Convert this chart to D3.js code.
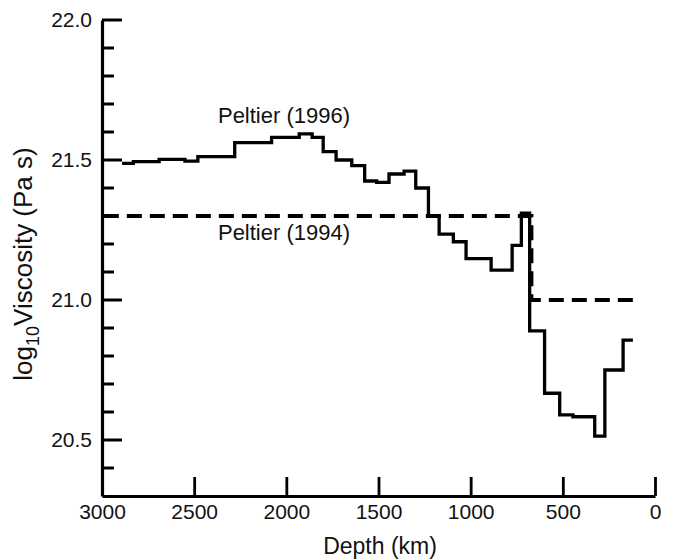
<!DOCTYPE html>
<html lang="en">
  <head>
    <meta charset="utf-8">
    <title>Viscosity profiles</title>
    <script src="https://d3js.org/d3.v7.min.js"></script>
    <style>
      body { margin: 0; background: #fff; }
      svg text { font-family: "Liberation Sans", Arial, Helvetica, sans-serif; fill: #111; }
    </style>
  </head>
  <body>
    <script>
// Peltier (1996): layer boundaries (km) and log10 viscosity in each layer
const edges1996 = [2891, 2830, 2690, 2550, 2480, 2280, 2080, 1930, 1860, 1800, 1730, 1645, 1575, 1510,
  1443, 1361, 1298, 1229, 1171, 1094, 1025, 889, 775, 725, 680, 599, 517, 445, 327, 272, 173, 120]
const visc1996 = [21.488, 21.494, 21.502, 21.496, 21.512, 21.562, 21.581, 21.593, 21.581, 21.53, 21.5,
  21.48, 21.425, 21.42, 21.45, 21.46, 21.4, 21.3, 21.235, 21.208, 21.148, 21.107, 21.195, 21.31,
  20.89, 20.667, 20.59, 20.583, 20.514, 20.75, 20.857]

// Peltier (1994)
const edges1994 = [2990, 670, 120]
const visc1994 = [21.3, 21.0]

const xTicks = [3000, 2500, 2000, 1500, 1000, 500, 0]
const yMajor = [20.5, 21.0, 21.5, 22.0]
const yMinor = [20.4, 20.6, 20.7, 20.8, 20.9, 21.1, 21.2, 21.3, 21.4, 21.6, 21.7, 21.8, 21.9]

const width = 675, height = 559

const svg = d3.select('body').append('svg')
  .attr('width', width)
  .attr('height', height)

const x = d3.scaleLinear().domain([3000, 0]).range([102, 655])
const y = d3.scaleLinear().domain([20.3, 22.0]).range([496, 20])

// step points: each value holds until the next boundary
const toSteps = (edges, vals) => {
  const pts = vals.map((v, i) => [edges[i], v])
  pts.push([edges[edges.length - 1], vals[vals.length - 1]])
  return pts
}

const line = d3.line()
  .x(d => x(d[0]))
  .y(d => y(d[1]))
  .curve(d3.curveStepAfter)

svg.append('path')
  .datum(toSteps(edges1994, visc1994))
  .attr('d', line)
  .attr('fill', 'none')
  .attr('stroke', '#000')
  .attr('stroke-width', 3.8)
  .attr('stroke-dasharray', '15,8')

svg.append('path')
  .datum(toSteps(edges1996, visc1996))
  .attr('d', line)
  .attr('fill', 'none')
  .attr('stroke', '#000')
  .attr('stroke-width', 3.3)

// y ticks drawn as one path: minor 12px, major 20px, pointing inward
const tickPath = d3.path()
yMinor.forEach(v => { tickPath.moveTo(x(3000), y(v)); tickPath.lineTo(x(3000) + 12, y(v)) })
yMajor.forEach(v => { tickPath.moveTo(x(3000), y(v)); tickPath.lineTo(x(3000) + 20, y(v)) })
svg.append('path')
  .attr('d', tickPath.toString())
  .attr('fill', 'none')
  .attr('stroke', '#000')
  .attr('stroke-width', 2.8)

const yAxis = svg.append('g')
  .attr('transform', `translate(${x(3000)},0)`)
  .call(d3.axisLeft(y).tickValues(yMajor).tickSize(0).tickSizeOuter(0).tickPadding(10)
    .tickFormat(d3.format('.1f')))
yAxis.select('.domain').attr('stroke-width', 3.2)
yAxis.selectAll('text').style('font-size', '21px')

const xAxis = svg.append('g')
  .attr('transform', `translate(0,${y(20.3)})`)
  .call(d3.axisBottom(x).tickValues(xTicks).tickSize(-19).tickSizeOuter(0).tickPadding(8)
    .tickFormat(d3.format('d')))
xAxis.select('.domain').attr('stroke-width', 3.2)
xAxis.selectAll('line').attr('stroke-width', 2.8)
xAxis.selectAll('text').style('font-size', '21px')

// axis titles
svg.append('text')
  .attr('x', 380)
  .attr('y', 554)
  .attr('text-anchor', 'middle')
  .style('font-size', '23px')
  .text('Depth (km)')

const yTitle = svg.append('text')
  .attr('transform', 'translate(32,264) rotate(-90)')
  .attr('text-anchor', 'middle')
  .style('font-size', '26px')
yTitle.append('tspan').text('log')
yTitle.append('tspan').attr('dy', 7).style('font-size', '18px').text('10')
yTitle.append('tspan').attr('dy', -7).text('Viscosity (Pa s)')

// curve labels
svg.append('text')
  .attr('x', 284)
  .attr('y', 123)
  .attr('text-anchor', 'middle')
  .style('font-size', '22px')
  .text('Peltier (1996)')

svg.append('text')
  .attr('x', 284)
  .attr('y', 240)
  .attr('text-anchor', 'middle')
  .style('font-size', '22px')
  .text('Peltier (1994)')
    </script>
  </body>
</html>
